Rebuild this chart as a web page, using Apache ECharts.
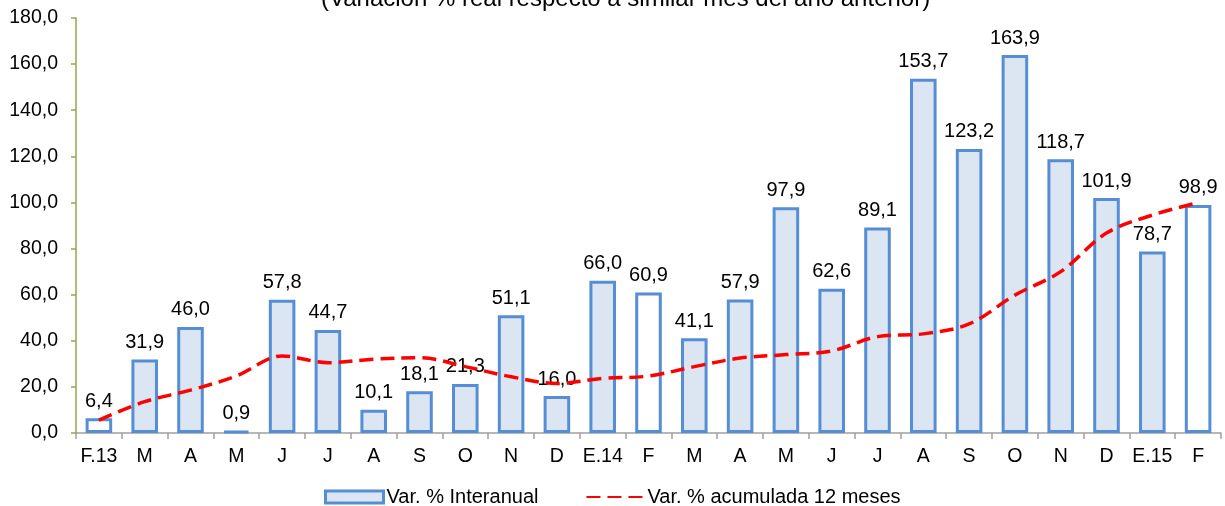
<!DOCTYPE html>
<html><head><meta charset="utf-8">
<script src="https://cdn.jsdelivr.net/npm/echarts@6/dist/echarts.min.js"></script>
<style>html,body{margin:0;padding:0;background:#fff}#c{width:1225px;height:506px}</style>
</head><body><div id="c"></div>
<script>
const categories = ['F.13','M','A','M','J','J','A','S','O','N','D','E.14','F','M','A','M','J','J','A','S','O','N','D','E.15','F'];
const interanual = [6.4,31.9,46.0,0.9,57.8,44.7,10.1,18.1,21.3,51.1,16.0,66.0,60.9,41.1,57.9,97.9,62.6,89.1,153.7,123.2,163.9,118.7,101.9,78.7,98.9];
const acumulada = [5.6,13.6,18.6,24.7,33.4,30.5,32.0,32.7,28.8,24.4,21.5,23.7,24.7,28.8,32.5,34.0,35.6,41.8,43.0,47.3,59.8,70.0,86.7,94.5,99.9];
const yTicks = {min:0, max:180, interval:20};
const titleText = '(Variación % real respecto a similar mes del año anterior)';
const seriesNames = ['Var. % Interanual','Var. % acumulada 12 meses'];

const fmt = v => Number(v).toFixed(1).replace('.', ',');
const font = 'Liberation Sans, Arial, sans-serif';
const chart = echarts.init(document.getElementById('c'));
chart.setOption({
  animation:false,
  textStyle:{fontFamily:font},
  title:{text:titleText,left:316,top:-18,textStyle:{fontFamily:font,fontSize:24,fontWeight:'normal',color:'#000'}},
  grid:{left:76,right:4,top:18,bottom:73},
  legend:{top:487,left:324,padding:0,itemGap:47,itemHeight:12,itemWidth:58,
    textStyle:{fontFamily:font,fontSize:20,color:'#000',padding:[0,0,0,-2]},
    data:[{name:seriesNames[0],icon:'rect',itemStyle:{color:'#DCE6F2',borderColor:'#558ED5',borderWidth:3}},
          {name:seriesNames[1],itemStyle:{opacity:0}}]},
  xAxis:{type:'category',data:categories,
    axisLine:{lineStyle:{color:'#A0A0A0',width:1.5}},
    axisTick:{show:true,length:6,lineStyle:{color:'#A0A0A0',width:1.5}},
    axisLabel:{fontFamily:font,fontSize:19.5,color:'#000',margin:14,interval:0}},
  yAxis:{type:'value',min:yTicks.min,max:yTicks.max,interval:yTicks.interval,
    axisLine:{show:true,lineStyle:{color:'#8EAA50',width:1.5}},
    axisTick:{show:true,length:5,lineStyle:{color:'#8EAA50',width:1.5}},
    splitLine:{show:false},
    axisLabel:{fontFamily:font,fontSize:19.5,color:'#000',margin:18,formatter:fmt}},
  series:[
    {name:seriesNames[0],type:'bar',barWidth:'58%',
     data:interanual.map((v,i)=>({value:v,itemStyle:{color:categories[i].startsWith('F')?'#FFFFFF':'#DCE6F2'}})),
     itemStyle:{color:'#DCE6F2',borderColor:'#558ED5',borderWidth:3},
     label:{show:true,position:'top',distance:7,fontFamily:font,fontSize:20,color:'#000',formatter:p=>fmt(p.value)},
     z:2},
    {name:seriesNames[1],type:'line',data:acumulada,smooth:0.35,symbol:'none',
     lineStyle:{color:'#FF0000',width:3.5,type:[14,7]},itemStyle:{color:'#FF0000'},z:3}
  ]
});
</script></body></html>
